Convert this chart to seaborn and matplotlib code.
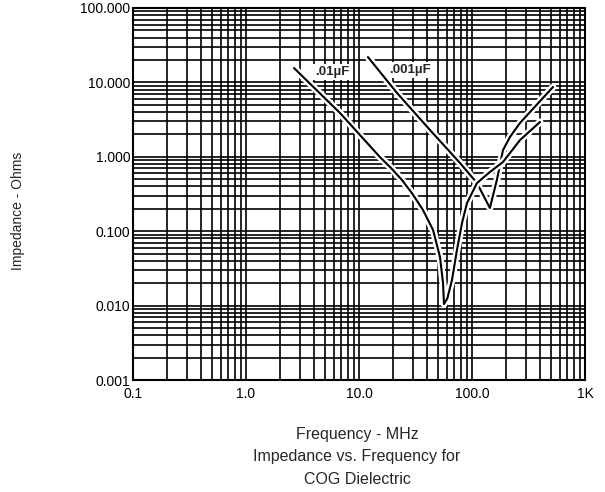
import numpy as np
import pandas as pd
import seaborn as sns
import matplotlib.pyplot as plt
import matplotlib.patheffects as pe
from matplotlib.ticker import FixedLocator, FixedFormatter, LogLocator, NullFormatter

# --- data (frequency in MHz, impedance in ohms) ---
freq_01 = [2.66, 6.79, 15.3, 19.2, 24.0, 29.4, 36.8, 45.2, 52.1, 55.4, 56.5,
           60.5, 66.5, 73.6, 81.6, 90.3, 110.7, 144, 188, 266, 400]
imp_01 = [15.6, 3.88, 0.994, 0.707, 0.488, 0.325, 0.193, 0.104, 0.045, 0.0201, 0.0105,
          0.0125, 0.0221, 0.0559, 0.129, 0.239, 0.444, 0.625, 0.851, 1.68, 2.94]

freq_001 = [12.0, 21.7, 42.5, 78.3, 110.7, 144, 166, 188, 217, 266, 400, 521]
imp_001 = [21.9, 7.21, 2.29, 0.826, 0.444, 0.205, 0.488, 1.23, 1.85, 2.85, 5.6, 8.67]

x_ticks = [0.1, 1, 10, 100, 1000]
x_labels = ["0.1", "1.0", "10.0", "100.0", "1K"]
y_ticks = [0.001, 0.01, 0.1, 1, 10, 100]
y_labels = ["0.001", "0.010", "0.100", "1.000", "10.000", "100.000"]

df = pd.concat([
    pd.DataFrame({"freq": freq_01, "imp": imp_01, "cap": ".01µF"}),
    pd.DataFrame({"freq": freq_001, "imp": imp_001, "cap": ".001µF"}),
])

sns.set_style("white")
plt.rcParams["font.family"] = ["Liberation Sans", "DejaVu Sans"]

fig = plt.figure(figsize=(6.05, 4.92), dpi=100)
ax = fig.add_axes([133 / 605, 1 - 380 / 492, 452 / 605, 372 / 492])

ax.set_xscale("log")
ax.set_yscale("log")
ax.set_xlim(0.1, 1000)
ax.set_ylim(0.001, 100)

# heavy black log grid like the scanned sheet
ax.xaxis.set_minor_locator(LogLocator(base=10, subs=np.arange(2, 10)))
ax.yaxis.set_minor_locator(LogLocator(base=10, subs=np.arange(2, 10)))
ax.xaxis.set_minor_formatter(NullFormatter())
ax.yaxis.set_minor_formatter(NullFormatter())
ax.grid(which="both", color="black", linewidth=1.2)
ax.set_axisbelow(True)

sns.lineplot(data=df, x="freq", y="imp", units="cap", estimator=None, sort=False,
             color="black", linewidth=1.5, ax=ax, legend=False)
for line in ax.get_lines():
    line.set_path_effects([pe.Stroke(linewidth=5, foreground="white"), pe.Normal()])

ax.xaxis.set_major_locator(FixedLocator(x_ticks))
ax.xaxis.set_major_formatter(FixedFormatter(x_labels))
ax.yaxis.set_major_locator(FixedLocator(y_ticks))
ax.yaxis.set_major_formatter(FixedFormatter(y_labels))
ax.tick_params(which="both", length=0, labelsize=10, colors="black")
ax.tick_params(axis="x", pad=5)
ax.tick_params(axis="y", pad=2)
ax.set_xlabel("")
ax.set_ylabel("")
for s in ax.spines.values():
    s.set_color("black")
    s.set_linewidth(1.5)

box = dict(facecolor="white", edgecolor="none", pad=1.5)
ax.text(5.77, 13.8, ".01µF", fontsize=9.5, fontweight="bold", ha="center", va="center", bbox=box)
ax.text(28.3, 14.7, ".001µF", fontsize=9.5, fontweight="bold", ha="center", va="center", bbox=box)

fig.text(18 / 605, 1 - 211 / 492, "Impedance - Ohms", rotation=90, ha="center", va="center", fontsize=10)
fig.text(357 / 605, 1 - 435 / 492, "Frequency - MHz", ha="center", va="center", fontsize=11.5)
fig.text(357 / 605, 1 - 457 / 492, "Impedance vs. Frequency for", ha="center", va="center", fontsize=11.5)
fig.text(357 / 605, 1 - 479 / 492, "COG Dielectric", ha="center", va="center", fontsize=11.5)

fig.savefig("out.png", dpi=100)
